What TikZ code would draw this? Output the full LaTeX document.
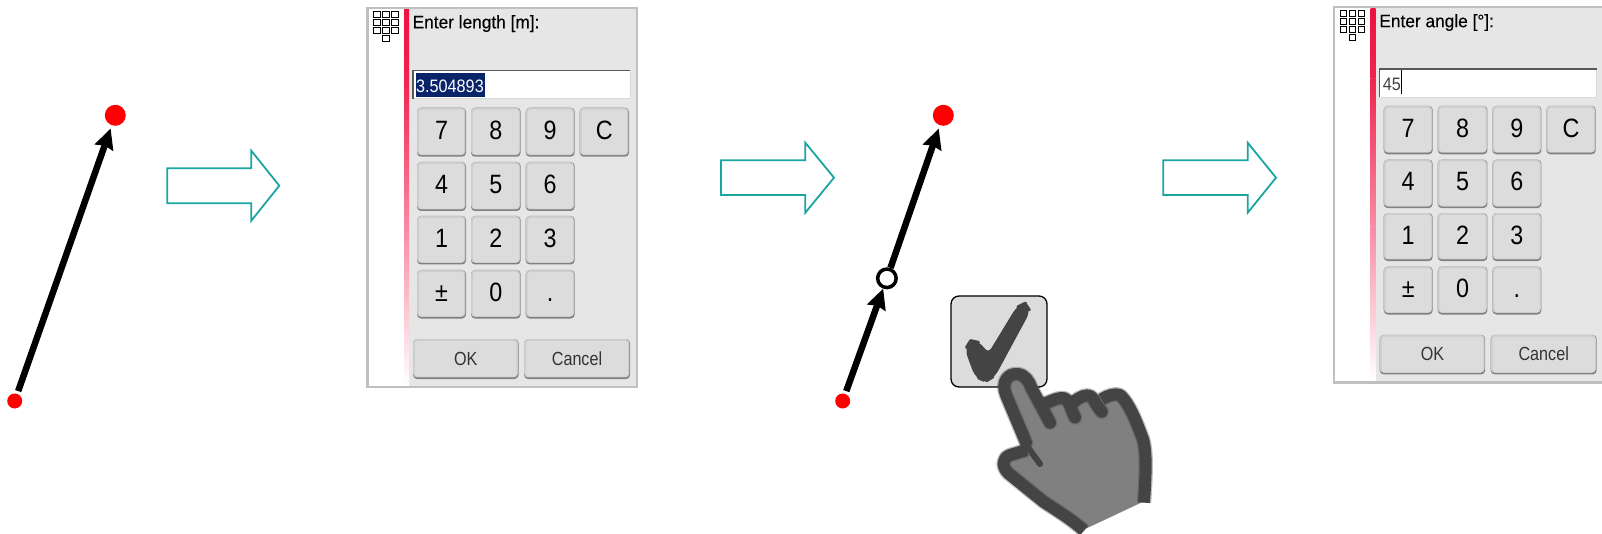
\documentclass[tikz,border=0pt]{standalone}
\usepackage{fontspec}
\setmainfont{Liberation Sans}
\newfontfamily\titlef[FakeBold=0.2,FakeStretch=0.96]{Liberation Sans}
\newfontfamily\keyf[FakeStretch=0.88]{Liberation Sans}
\newfontfamily\labelf[FakeStretch=0.85]{Liberation Sans}
\newfontfamily\fieldf[FakeStretch=0.9]{Liberation Sans}
\usetikzlibrary{arrows.meta}
\definecolor{teal1}{HTML}{1AA5A0}
\definecolor{panelbg}{HTML}{E6E6E6}
\definecolor{panelbd}{HTML}{C0C0C0}
\definecolor{btnface}{HTML}{DCDCDC}
\definecolor{stripred}{HTML}{F01040}
\definecolor{stripmid}{HTML}{F88CA4}
\definecolor{handdark}{HTML}{444444}
\definecolor{handfill}{HTML}{808080}
\definecolor{selnavy}{HTML}{0A246A}
\tikzset{
  blockarrow/.style={draw=teal1,line width=1.8pt,fill=white,miter limit=10},
  dotsmall/.style={circle,fill=red,inner sep=0pt,minimum size=15pt,outer sep=0pt},
  dotbig/.style={circle,fill=red,inner sep=0pt,minimum size=21pt,outer sep=0pt},
  midring/.style={circle,draw=black,line width=3.5pt,fill=white,inner sep=0pt,minimum size=18.5pt,outer sep=1.75pt},
  vector/.style={line width=6.5pt,draw=black,-{Stealth[length=20pt,width=19pt,inset=2pt]}},
  digit/.style={inner sep=0pt,anchor=base,font=\keyf\fontsize{26.5}{26.5}\selectfont,text=black},
  smalllabel/.style={inner sep=0pt,anchor=base,font=\labelf\fontsize{19}{19}\selectfont,text=black!80},
  titletext/.style={inner sep=0pt,anchor=base west,font=\titlef\fontsize{18}{18}\selectfont},
  fieldtext/.style={inner sep=0pt,anchor=base west,font=\fieldf\fontsize{18}{18}\selectfont},
  iconsq/.style={draw=black,line width=1pt,fill=white},
  handstroke/.style={draw=handdark,line width=12pt,line join=round},
  handsoft/.style={draw=handdark,line width=14.5pt,line join=round,opacity=.35},
}
% #1 id #2 x1 #3 y1 #4 x2 #5 y2 #6 style #7 text #8 baseline offset
\newcommand{\keybtn}[8]{%
  \fill[black!50,rounded corners=4pt] (#2,#3) rectangle (#4,#5);
  \fill[black!20,rounded corners=4pt] (#2,#3) rectangle (#4-0.6,#5-1.6);
  \fill[btnface,rounded corners=3pt] (#2+1.8,#3+1.8) rectangle (#4-1.8,#5-2.4);
  \path ({(#2+#4)/2},#3+#8) node[#6] (#1) {#7};
}
% #1 prefix #2 title
\newcommand{\keypanel}[2]{%
  \fill[white] (367.5,8) rectangle (637,387);
  \fill[panelbg] (409,8) rectangle (637,387);
  \shade[top color=stripred,bottom color=stripred!92!white] (404,9) rectangle (409,80);
  \shade[top color=stripred!92!white,bottom color=stripmid] (404,80) rectangle (409,230);
  \shade[top color=stripmid,bottom color=white] (404,230) rectangle (409,386);
  \draw[panelbd,line width=2.4pt] (367.5,8) rectangle (637,387);
  \foreach \cx in {373.3,382.3,391.3}{\foreach \cy in {11.3,19.3,27.3}{
    \draw[iconsq] (\cx,\cy) rectangle ++(6.7,6);}}
  \draw[iconsq] (382.3,35.3) rectangle ++(6.7,6);
  \node[titletext] (#1title) at (412.5,28.3) {#2};
  \fill[white] (413,70) rectangle (630,99);
  \draw[black!15,line width=1pt] (413,99) -- (630,99) -- (630,70);
  \draw[black!65,line width=1.3pt] (413,99) -- (413,70.5) -- (630,70.5);
  \keybtn{#1k7}{417}{107.7}{466}{156.7}{digit}{7}{31.5}
  \keybtn{#1k8}{471}{107.7}{520.7}{156.7}{digit}{8}{31.5}
  \keybtn{#1k9}{525.7}{107.7}{574.7}{156.7}{digit}{9}{31.5}
  \keybtn{#1kC}{579.7}{107.7}{629}{156.7}{digit}{C}{31.5}
  \keybtn{#1k4}{417}{162}{466}{211}{digit}{4}{31.5}
  \keybtn{#1k5}{471}{162}{520.7}{211}{digit}{5}{31.5}
  \keybtn{#1k6}{525.7}{162}{574.7}{211}{digit}{6}{31.5}
  \keybtn{#1k1}{417}{216}{466}{264.5}{digit}{1}{31.5}
  \keybtn{#1k2}{471}{216}{520.7}{264.5}{digit}{2}{31.5}
  \keybtn{#1k3}{525.7}{216}{574.7}{264.5}{digit}{3}{31.5}
  \keybtn{#1kpm}{417}{270}{466}{318.5}{digit}{±}{31.5}
  \keybtn{#1k0}{471}{270}{520.7}{318.5}{digit}{0}{31.5}
  \keybtn{#1kdot}{525.7}{270}{574.7}{318.5}{digit}{.}{31.5}
  \keybtn{#1ok}{413}{339}{518.5}{379}{smalllabel}{OK}{26}
  \keybtn{#1cancel}{524}{339}{630}{379}{smalllabel}{Cancel}{26}
}
\begin{document}
\begin{tikzpicture}[x=1pt,y=-1pt]
\useasboundingbox (0,0) rectangle (1602,534);

% first vector
\node[dotsmall] (a1) at (14.7,401) {};
\node[dotbig] (b1) at (115.3,115.3) {};
\draw[vector,shorten <=3pt,shorten >=3.5pt] (a1) -- (b1);

% block arrows
\draw[blockarrow] (167.3,168.3) -- (251.3,168.3) -- (251.3,150.7) -- (279.3,185.7) -- (251.3,220.7) -- (251.3,203.3) -- (167.3,203.3) -- cycle;
\draw[blockarrow] (721,160.3) -- (805.3,160.3) -- (805.3,142.7) -- (834,177.7) -- (805.3,212.7) -- (805.3,195) -- (721,195) -- cycle;
\draw[blockarrow] (1163.3,160.3) -- (1247.7,160.3) -- (1247.7,142.7) -- (1276,177.7) -- (1247.7,212.7) -- (1247.7,195) -- (1163.3,195) -- cycle;

% first keypad
\keypanel{p}{Enter length [m]:}
\fill[selnavy] (416,73) rectangle (485,97);
\node[fieldtext,text=white] (pfield) at (416,92.3) {3.504893};

% second keypad
\begin{scope}[shift={(966.7,-0.8)},y=-0.99pt]
\keypanel{q}{Enter angle [°]:}
\node[fieldtext,text=black!75] (qfield) at (416,92.3) {45};
\draw[black,line width=1pt] (435,72) -- (435,96);
\end{scope}

% second vector
\node[dotsmall] (a2) at (842.7,401) {};
\node[dotbig] (b2) at (943.3,115.3) {};
\node[midring] (m2) at (886.9,278.3) {};
\draw[vector,shorten >=3.5pt] (m2) -- (b2);
\draw[vector,shorten <=3pt] (a2) -- (m2);

% check box
\node[draw=black,line width=1.3pt,fill=btnface,rounded corners=8pt,minimum width=96pt,minimum height=91pt,inner sep=0pt] (box) at (999,341.5) {};

% check mark and hand
\begin{scope}[shift={(930,280)},x=.3333pt,y=-.3333pt]
\filldraw[handdark,line width=3pt,line join=round,rounded corners=8pt] (108,205) -- (122,182) -- (145,187) -- (175,228) -- (265,80) -- (285,70) -- (298,90) -- (190,290) -- (168,303) -- (140,292) -- cycle;
\fill[handfill] (460,745) -- (390,700) -- (320,650) -- (225,560) -- (285,505) -- (225,335) -- (258,285) -- (300,320) -- (345,375) -- (400,355) -- (470,345) -- (560,345) -- (590,375) -- (640,480) -- (648,560) -- (640,665) -- (470,745) -- cycle;
\foreach \st in {handsoft,handstroke}{
\draw[\st] (462,752) .. controls (420,715) and (385,695) .. (340,665) -- (235,580) .. controls (215,560) and (215,535) .. (240,525) -- (290,510);
\draw[\st,line width=6pt,line cap=round] (285,490) -- (330,552);
\draw[\st,line cap=round] (288,488) -- (228,345) .. controls (212,305) and (235,280) .. (262,282) .. controls (285,283) and (298,305) .. (305,325) -- (360,428);
\draw[\st,line cap=round] (350,368) .. controls (370,360) and (390,350) .. (405,355) .. controls (420,365) and (425,395) .. (435,412);
\draw[\st,line cap=round] (432,365) .. controls (450,350) and (470,340) .. (485,350) .. controls (495,365) and (505,385) .. (515,395);
\draw[\st] (515,358) .. controls (535,345) and (555,340) .. (570,345) .. controls (600,370) and (625,440) .. (640,480) .. controls (650,520) and (648,580) .. (642,668);
}
\end{scope}
\end{tikzpicture}
\end{document}
